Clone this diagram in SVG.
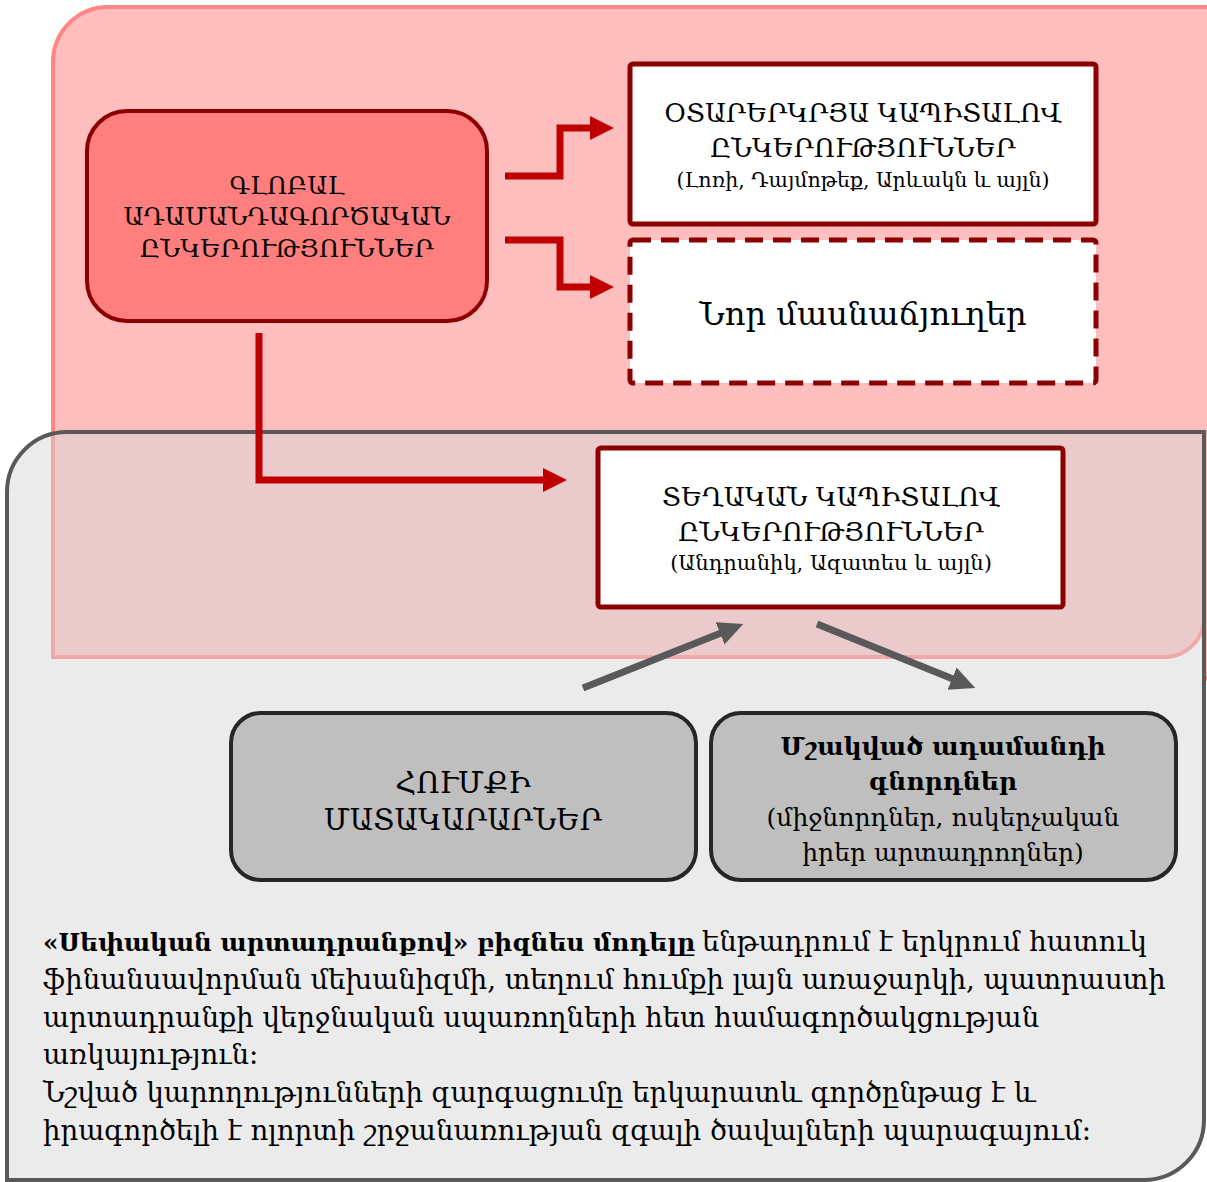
<svg xmlns="http://www.w3.org/2000/svg" width="1207" height="1182" viewBox="0 0 1207 1182">
<style>
text{font-family:"DejaVu Serif","Liberation Serif",serif;fill:#000;text-anchor:middle}
.t25{font-size:25px}
.t26{font-size:26px}
.t29{font-size:29px}
.s20{font-size:20.5px}
.s21{font-size:21px}
.t32{font-size:32px}
.b{font-weight:bold}
.para{font-size:27.5px;text-anchor:start}
.red{fill:none;stroke:#c00000;stroke-width:7}
.gray{fill:none;stroke:#595959;stroke-width:7}
.wbox{fill:#fff;stroke:#8b0000;stroke-width:5}
.gbox{fill:#bfbfbf;stroke:#262626;stroke-width:4}
</style>
<defs>
<marker id="ar" markerUnits="userSpaceOnUse" markerWidth="26" markerHeight="26" refX="1" refY="12" orient="auto"><path d="M0,0 L24,12 L0,24 z" fill="#c00000"/></marker>
<marker id="ag" markerUnits="userSpaceOnUse" markerWidth="28" markerHeight="26" refX="1" refY="12" orient="auto"><path d="M0,0 L25,12 L0,24 z" fill="#595959"/></marker>
</defs>
<g id="background">
<path d="M53,62 A55,55 0 0 1 108,7 H1240 V617 A40,40 0 0 1 1167,657 H53 Z" fill="#ffbebe" stroke="#ff8585" stroke-width="4"/>
<path d="M7,492 A60,60 0 0 1 67,432 H1204 V1120 A60,60 0 0 1 1144,1180 H7 Z" fill="#ebebeb"/>
<path d="M53,432 H1204 V617 A40,40 0 0 1 1167,657 H53 Z" fill="#eacaca"/>
<path d="M53,432 V657 H1167 A40,40 0 0 0 1204,622" fill="none" stroke="#f0a9a9" stroke-width="4"/>
<path d="M7,492 A60,60 0 0 1 67,432 H1204 V1120 A60,60 0 0 1 1144,1180 H7 Z" fill="none" stroke="#595959" stroke-width="4"/>
</g>
<g id="connectors">
<path class="red" d="M505,176 H560 V128 H591" marker-end="url(#ar)"/>
<path class="red" d="M505,240 H560 V287 H591" marker-end="url(#ar)"/>
<path class="red" d="M259,333 V480 H544" marker-end="url(#ar)"/>
<path class="gray" d="M583,688 L721,633" marker-end="url(#ag)"/>
<path class="gray" d="M817,624 L953,679" marker-end="url(#ag)"/>
</g>
<g id="global">
<rect x="87" y="111" width="400" height="210" rx="40" fill="#ff7f7f" stroke="#8b0000" stroke-width="4"/>
<text class="t25" x="287" y="194">ԳԼՈԲԱԼ</text>
<text class="t25" x="287" y="225">ԱԴԱՄԱՆԴԱԳՈՐԾԱԿԱՆ</text>
<text class="t25" x="287" y="257">ԸՆԿԵՐՈՒԹՅՈՒՆՆԵՐ</text>
</g>
<g id="foreign">
<rect class="wbox" x="630" y="64" width="466" height="160" rx="3"/>
<text class="t26" x="863" y="122">ՕՏԱՐԵՐԿՐՅԱ ԿԱՊԻՏԱԼՈՎ</text>
<text class="t26" x="863" y="157">ԸՆԿԵՐՈՒԹՅՈՒՆՆԵՐ</text>
<text class="s20" x="863" y="187">(Լոռի, Դայմոթեք, Արևակն և այլն)</text>
</g>
<g id="branches">
<rect x="630" y="240" width="466" height="143" rx="3" fill="#fff" stroke="#8b0000" stroke-width="5" stroke-dasharray="18 10"/>
<text class="t32" x="863" y="325">Նոր մասնաճյուղեր</text>
</g>
<g id="local">
<rect class="wbox" x="598" y="448" width="465" height="159" rx="3"/>
<text class="t26" x="831" y="506">ՏԵՂԱԿԱՆ ԿԱՊԻՏԱԼՈՎ</text>
<text class="t26" x="831" y="541">ԸՆԿԵՐՈՒԹՅՈՒՆՆԵՐ</text>
<text class="s21" x="831" y="570">(Անդրանիկ, Ազատես և այլն)</text>
</g>
<g id="suppliers">
<rect class="gbox" x="231" y="713" width="465" height="167" rx="30"/>
<text class="t29" x="463" y="793">ՀՈՒՄՔԻ</text>
<text class="t29" x="463" y="830">ՄԱՏԱԿԱՐԱՐՆԵՐ</text>
</g>
<g id="buyers">
<rect class="gbox" x="711" y="713" width="465" height="167" rx="30"/>
<text class="t25 b" x="943" y="755">Մշակված ադամանդի</text>
<text class="t25 b" x="943" y="790">գնորդներ</text>
<text class="t25" x="943" y="826">(միջնորդներ, ոսկերչական</text>
<text class="t25" x="943" y="861">իրեր արտադրողներ)</text>
</g>
<g id="description">
<text class="para" x="43" y="951"><tspan font-weight="bold" font-size="24.8">«Սեփական արտադրանքով» բիզնես մոդելը</tspan><tspan x="702">ենթադրում է երկրում հատուկ</tspan></text>
<text class="para" x="43" y="989">ֆինանսավորման մեխանիզմի, տեղում հումքի լայն առաջարկի, պատրաստի</text>
<text class="para" x="43" y="1027">արտադրանքի վերջնական սպառողների հետ համագործակցության</text>
<text class="para" x="43" y="1064">առկայություն։</text>
<text class="para" x="43" y="1102">Նշված կարողությունների զարգացումը երկարատև գործընթաց է և</text>
<text class="para" x="43" y="1140">իրագործելի է ոլորտի շրջանառության զգալի ծավալների պարագայում։</text>
</g>
</svg>
